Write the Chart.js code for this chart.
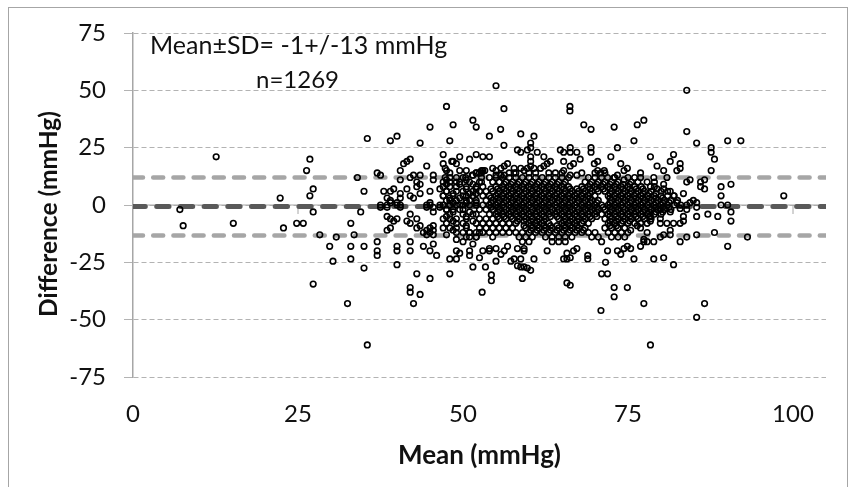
<!DOCTYPE html>
<html>
<head>
<meta charset="utf-8">
<title>Bland-Altman</title>
<script src="https://cdn.jsdelivr.net/npm/chart.js@4"></script>
<style>
html, body { margin: 0; padding: 0; background: #fff; overflow: hidden; }
#wrap { position: relative; width: 856px; height: 487px; overflow: hidden; }
#frame { position: absolute; left: 8px; top: 7px; width: 838px; height: 500px; border: 1px solid #a6a6a6; }
canvas { position: absolute; left: 0; top: 0; }
</style>
</head>
<body>
<div id="wrap">
<div id="frame"></div>
<canvas id="baChart" width="856" height="487"></canvas>
</div>
<script>
// scattered points
const outerMean = [
12.6,7.1,7.6,15.2,22.3,22.8,24.8,25.8,26.8,26.3,27.3,26.8,27.3,27.3,
28.3,29.8,30.3,30.8,32.5,33,33,33,33.5,34,34.5,35,35,35,35.5,35.5,
37,37,37,37,37.5,37.5,37.5,38,38.5,38.5,38.5,38.5,38.5,39,39,39,39,39,39,39.5,39.5,
40,40,40,40,40,40,40,40.5,40.5,40.5,40.5,40.5,40.5,41,41.5,41.5,41.5,
42,42,42,42,42,42,42,42,42,42.5,42.5,42.5,43,43,43,43,43,
43.5,43.5,43.5,43.5,43.5,43.5,44,44,44.5,44.5,44.5,44.5,44.5,
45,45,45,45,45,45,45,45,45.5,45.5,45.5,45.5,45.5,45.5,45.5,45.5,46,
46.5,46.5,46.5,47,47,47,47,47.5,47.5,47.5,47.5,47.5,47.5,47.5,47.5,47.5,
48,48,48,48,48,48,48,48.5,48.5,48.5,48.5,48.5,48.5,48.5,
49,49,49,49,49,49,49,49,49.5,49.5,49.5,49.5,49.5,49.5,49.5,50,
50.5,50.5,50.5,50.5,50.5,50.5,50.5,51,51,51,51,51,51,51,51,
51.5,51.5,51.5,51.5,51.5,51.5,52,52,52,52,52,52,52,52,52,
48.3,47.3,52,51.4,47.3,50.4,52.8,52.8,53.3,52.8,52.8,
55,56.2,55.7,54,56.2,66.2,66.2,68.3,69.4,72.9,76.4,77.4,75.9,83.9,83.9,85.4,87.6,87.6,88.1,87.6,
90.1,92.1,98.6,89.1,90.6,89.1,89.1,90.1,86.6,86,86,86.6,84.4,83.9,83.4,84.4,84.9,85.4,83.9,
58.75,58.25,58.75,60.75,60.25,60.25,60.25,60.25,60.25,59.75,61.25,62.25,63.25,62.75,62.25,61.75,60.75,59.75,59.25,58.75,57.75,57.75,
56.75,56.25,55.75,54.5,55,53,54,53,52.5,55,55.75,56.25,
64.75,65.25,66.25,66.25,67.25,67.75,66.75,66.25,65.25,65.25,66.25,67.25,
69.4,69.4,69.9,70.4,70.4,70.9,71.4,72.4,73.4,73.9,74.9,74.4,73.4,72.9,74.4,71.9,
76.9,76.9,78.4,79.4,80.4,81.9,81.4,82.9,82.9,82.4,78.9,80.9,80.4,80.4,77.9,78.4,79.4,81.4,81.9,82.4,82.9,
78.4,85.4,86.6,77.4,70.9,72.9,72.9,74.9,65.75,66.25,52.9,59,54.3,54.3,53.4,71,71.9,71.6,81.9,80.4,78.9,75.9,68.9,68.9,
65.25,65.75,66.25,65.75,66.75,67.25,62.75,60.75,60.25,59.75,59.25,58.75,58.25,58.75,57.75,57.25,55,54,53,55.75,56.25,55,54,56.75,58.25,59.25,59.25,52.5,
71.9,73.4,73.9,74.4,74.9,75.4,76.9,77.4,77.9,78.9,82.9,83.9,85.4,88.1,90.1,93.1,81.4,80.4,79.9,81.4,77.9,77.4,
85.4,87.1,88.6,90.6,90.6,85.4,83.9,83.4,83.4,82.9,81.9,80.9,79.9,79.9,81.4,79.9,78.4,78.4,78.4,77.9,76.9,76.4,76.9,75.4
];
const outerDiff = [
21,-2,-9,-8,3,-10,-8,-8,20,15,7,4,-3,-34.5,
-13,-18,-24.5,-14,-43,-8,-18,-23.5,-13,12,-3,6,-18,-27.5,29,-61,
14,-16,-20,-22,13,0,-1,6,3,0,-1,-5,-11,28,6,2,1,-6,-10,7,-7,
30,1,0,-6,-18,-20,-26,11,5,3,0,-1,15,18,19,7,-7,
20,12,4,-4,-8,-16,-20,-36,-38,13,3,-43,10,8,-6,-10,-30,
27,13,9,5,-9,-39,-12,-18,17,0,-1,-11,-13,
34,6,1,0,-10,-12,-20,-32,13,11,-1,-3,-9,-11,-13,-17,-22,
7,0,-1,22,18,10,4,43,15,11,9,6,2,-2,-5,-13,
28,14,8,3,-10,-23.5,-30,35,19,5,1,-3,-7,-11,
18,12,10,-6,-8,-20,-23.5,-15,21,15,9,3,0,-2,-21,-16,
15,11,7,4,1,-5,-9,20,5,2,-3,-12,-14,-20,-22,
37,13,9,-7,-17,-27,34,22,14,7,5,1,-4,-12,-14,
19,16,14,13,12,12,15,14,15,12,10,
52,42,33,30,26,43,41,35,33,34,35,37,28,50,32,27,25,23,20,15,
28,28,4,8,9,4,0,0,11,10,8,7,11,10,5,1,2,1,0,
31,24,23,30,27,25,21,19,17,24,23,21,19,18,17,16,16,16,15,16,16,14,
18,17,16,16,15,21,21,15,14,13,13,13,
24,23,25,23,23,20,18,17,19,15,13,13,
25,23,18,19,15,14,15,21,25,18,16,15,13,12,11,12,
14,12,21,17,15,22,19,18,16,15,12,12,9,7,10,8,7,6,4,1,-1.5,
-61,-49,-43,-43,-46,-40,-36,-36,-34,-35,-38,-32,-33,-30.5,-27,-30,-30,-25,-26,-23,-23.5,-23.5,-23.5,-22,
-23.5,-23.5,-23,-21,-20,-19,-20,-23.5,-28.5,-27.5,-27,-27,-26.5,-23.5,-23.5,-24.5,-24.5,-20,-20,-21.5,-20,-19,-19,-18,-19,-20,-19,-23,
-20,-20,-21.5,-19,-18,-19,-18,-16,-16,-16,-16,-14,-13,-12,-18,-14,-13,-13,-14,-11,-12,-15,
-5,-4,-5,-3,-7,-1,-2,-5,-7,-8,-8,-8,-8,-6,-3,-2,-2,-5,-7,-8,-8,-9,-10,-11
];

// dense middle of the cloud, read row by row
const coreDiffs = [14,12,10,9,8,7,6,5,4,3,2,1,0,-1,-2,-3,-4,-5,-6,-7,-8,-9,-10,-11,-12,-14,-16];
const coreMeans = [
[57,58,60,61,63,64,65,68,70,71.5],
[48,50,54,55,56,57,58,59,60,61,62,63,64,65,66,69,70,71,73,75,76],
[48,49.5,51,52.5,54.5,55.5,56.5,57.5,58.5,59.5,60.5,61.5,62.5,63.5,64.5,65.5,68.5,69.5,70.5,71.5,72.5,73.5,75.5,76.5,79],
[56.25,57.25,58.25,59.25,60.25,61.25,62.25,63.25,64.25,65.25,69.25,70.25,71.25,72.25,73.25,74.25,75.25],
[47,49,50.5,52,53,55,56,57,58,59,60,61,62,63,64,65,66,68,69,70,71,72,73,74,75,76,77,79],
[54.25,55.25,56.25,57.25,58.25,59.25,60.25,61.25,62.25,63.25,64.25,65.25,66.25,67.25,68.25,69.25,70.25,71.25,72.25,73.25,74.25,75.25,76.25,77.25],
[47.5,49,50,51.5,52.5,53.5,54.5,55.5,56.5,57.5,58.5,59.5,60.5,61.5,62.5,63.5,64.5,65.5,66.5,67.5,68.5,69.5,70.5,71.5,72.5,73.5,74.5,75.5,76.5,77.5,78.5,80,81],
[55.25,56.25,57.25,58.25,59.25,60.25,61.25,62.25,63.25,64.25,65.25,66.25,67.25,68.25,69.25,72.25,73.25,74.25,75.25,76.25,77.25,78.25,79.25],
[47,48.5,50,51.5,53,54,55,56,57,58,59,60,61,62,63,64,65,66,67,68,69,70,72,73,74,75,76,77,78,79,80,81,82],
[54.25,55.25,56.25,57.25,58.25,59.25,60.25,61.25,62.25,63.25,64.25,65.25,66.25,67.25,68.25,69.25,72.25,73.25,74.25,75.25,76.25,77.25,78.25,79.25,80.25],
[48,49,50.5,52,53.5,54.5,55.5,56.5,57.5,58.5,59.5,60.5,61.5,62.5,63.5,64.5,65.5,66.5,67.5,68.5,69.5,70.5,72.5,73.5,74.5,75.5,76.5,77.5,78.5,79.5,80.5,81.5,82.5],
[54.25,55.25,56.25,57.25,58.25,59.25,60.25,61.25,62.25,63.25,64.25,65.25,66.25,67.25,68.25,69.25,70.25,72.25,73.25,74.25,75.25,76.25,77.25,78.25,79.25,80.25,81.25],
[47,48,49,50,51,52,53,54,55,56,57,58,59,60,61,62,63,64,65,66,67,68,69,70,71,72,73,74,75,76,77,78,79,80,81,82,83],
[54.25,55.25,56.25,57.25,58.25,59.25,60.25,61.25,62.25,63.25,64.25,65.25,66.25,67.25,68.25,69.25,70.25,71.25,72.25,73.25,74.25,75.25,76.25,77.25,78.25,79.25,80.25,81.25],
[47.5,48.5,50,52.5,53.5,54.5,55.5,56.5,57.5,58.5,59.5,60.5,61.5,62.5,63.5,64.5,65.5,66.5,67.5,68.5,69.5,70.5,71.5,72.5,73.5,74.5,75.5,76.5,77.5,78.5,79.5,80.5,81.5],
[55.25,56.25,57.25,58.25,59.25,60.25,61.25,62.25,63.25,64.25,65.25,66.25,67.25,68.25,69.25,70.25,72.25,73.25,74.25,75.25,76.25,77.25,78.25,79.25,80.25],
[48,50,51.5,54,55,56,57,58,59,60,61,62,63,64,65,66,67,68,69,70,71,72,73,74,75,76,77,78,79,80],
[55.25,56.25,57.25,58.25,59.25,60.25,61.25,62.25,63.25,64.25,65.25,66.25,67.25,68.25,69.25,70.25,72.25,73.25,74.25,75.25,76.25,77.25,78.25],
[47,48,50.5,52.5,53.5,54.5,55.5,56.5,57.5,58.5,59.5,60.5,61.5,62.5,64.5,65.5,66.5,67.5,68.5,69.5,71.5,72.5,73.5,74.5,75.5,76.5,77.5,78.5],
[58.25,59.25,60.25,61.25,62.25,65.25,66.25,67.25,68.25,72.25,73.25,74.25,75.25],
[47.5,50,52,53,54,55,56,57,58,60,61,62,63,65,66,67,68,69,72,73,74,75,76],
[59.25,60.25,61.25,62.25,63.25,64.25,65.25,66.25,67.25,72.25,73.25],
[47,49,50.5,52.5,53.5,54.5,55.5,56.5,57.5,59.5,60.5,61.5,62.5,63.5,64.5,65.5,66.5,67.5,68.5,71.5,72.5,73.5,74.5],
[60.25,61.25,62.25,63.25,64.25,65.25,66.25,67.25,68.25],
[49,50,51,52.5,53,54,55,56,57,58,59,60,61,62,63,64,65,66,67,68,69,70,72,73,74,75],
[50.5,52,54.5,58.5,59.5,60.5,62.5,63.5,64.5,65.5,66.5,69.5,70.5,72.5,73.5,74.5],
[59,60,63.5,64.5,65.5,71]
];

// reference lines
const lineEnds = [0, 105];
const meanDiff = -0.7;
const upperLimit = 12;
const lowerLimit = -13.3;
const xTickMarks = [25, 100];

const labelFont = 'Lato, Carlito, sans-serif';

const points = outerMean.map((m, i) => ({ x: m, y: outerDiff[i] }));
coreMeans.forEach((row, i) => row.forEach(m => points.push({ x: m, y: coreDiffs[i] })));

function hLine(y, color, width, dash) {
    return {
        type: 'line',
        data: lineEnds.map(x => ({ x: x, y: y })),
        borderColor: color,
        borderWidth: width,
        borderDash: dash,
        borderCapStyle: 'round',
        pointRadius: 0,
        fill: false
    };
}

// labels inside the plot and the y title
const extraText = {
    id: 'extraText',
    afterDraw(chart) {
        const ctx = chart.ctx;
        ctx.save();
        ctx.fillStyle = '#111';
        ctx.textBaseline = 'middle';
        ctx.textAlign = 'left';
        ctx.font = '25px ' + labelFont;
        ctx.fillText('Mean±SD= -1+/-13 mmHg', 150, 46);
        ctx.font = '24px ' + labelFont;
        ctx.fillText('n=1269', 256, 80);
        ctx.translate(49, 214);
        ctx.rotate(-Math.PI / 2);
        ctx.textAlign = 'center';
        ctx.font = 'bold 24.5px ' + labelFont;
        ctx.fillText('Difference (mmHg)', 0, 0);
        ctx.restore();
    },
    // little marks under the zero line
    beforeDatasetsDraw(chart) {
        const ctx = chart.ctx;
        const zero = chart.scales.y.getPixelForValue(0);
        ctx.save();
        ctx.strokeStyle = '#a6a6a6';
        ctx.lineWidth = 1;
        xTickMarks.forEach(v => {
            const px = chart.scales.x.getPixelForValue(v);
            ctx.beginPath();
            ctx.moveTo(px, zero);
            ctx.lineTo(px, zero + 9);
            ctx.stroke();
        });
        ctx.restore();
    }
};

new Chart(document.getElementById('baChart'), {
    type: 'scatter',
    data: {
        datasets: [
            {
                data: points,
                pointStyle: 'circle',
                pointRadius: 2.8,
                pointBorderWidth: 1.6,
                pointBorderColor: '#000',
                pointBackgroundColor: 'rgba(0,0,0,0)'
            },
            hLine(meanDiff, '#595959', 5, [12.3, 11.4]),
            hLine(upperLimit, '#a6a6a6', 4.5, [10, 10.2]),
            hLine(lowerLimit, '#a6a6a6', 4.5, [10, 10.2]),
            hLine(0, '#a6a6a6', 1, [])
        ]
    },
    plugins: [extraText],
    options: {
        responsive: false,
        animation: false,
        layout: { padding: { top: 33, right: 30, left: 0, bottom: 0 } },
        plugins: { legend: { display: false }, tooltip: { enabled: false } },
        scales: {
            x: {
                type: 'linear',
                min: 0,
                max: 105,
                afterFit: s => { s.height = 110; },
                grid: { display: false },
                border: { display: false },
                ticks: {
                    stepSize: 25,
                    includeBounds: false,
                    maxRotation: 0,
                    padding: 15,
                    color: '#111',
                    font: { family: labelFont, size: 24 }
                },
                title: {
                    display: true,
                    text: 'Mean (mmHg)',
                    color: '#111',
                    padding: { bottom: 16 },
                    font: { family: labelFont, size: 26, weight: 'bold' }
                }
            },
            y: {
                min: -75,
                max: 75,
                afterFit: s => { s.width = 133; },
                grid: {
                    color: '#b3b3b3',
                    lineWidth: 1,
                    tickLength: 9,
                    tickColor: '#b3b3b3'
                },
                border: { display: true, color: '#a6a6a6', width: 1.5, dash: [5, 3] },
                ticks: {
                    stepSize: 25,
                    padding: 18,
                    color: '#111',
                    font: { family: labelFont, size: 24 }
                }
            }
        }
    }
});
</script>
</body>
</html>
